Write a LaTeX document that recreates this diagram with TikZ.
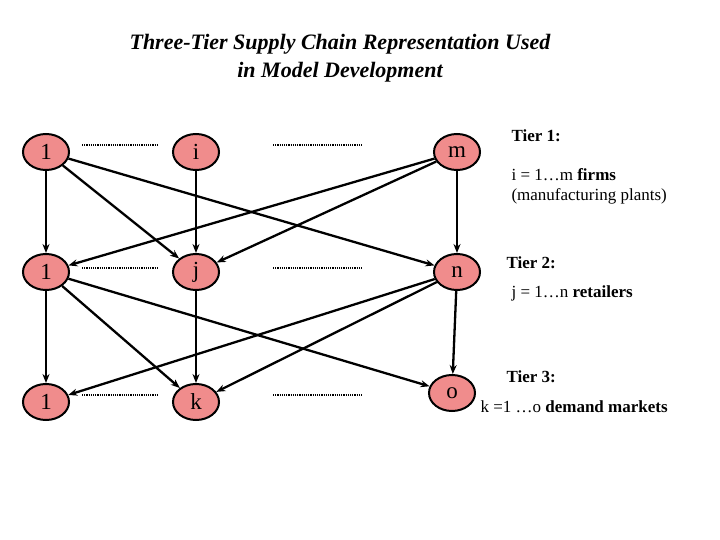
\documentclass[tikz,border=0pt]{standalone}
\usepackage{fontspec}
\setmainfont{Liberation Serif}
\usetikzlibrary{arrows.meta,shapes.geometric}
\begin{document}
\begin{tikzpicture}[x=1pt,y=-1pt,
  nd/.style={ellipse,draw,line width=2pt,fill={rgb,255:red,240;green,140;blue,140},minimum width=46pt,minimum height=36pt,inner sep=0pt,font=\fontsize{23}{24}\selectfont},
  ar/.style={line width=2.3pt,-{Stealth[length=9pt,width=7pt]}},
  dt/.style={line width=1.5pt,dash pattern=on 1.2pt off 1pt},
  lab/.style={anchor=west,font=\fontsize{17}{20}\selectfont,align=left}]
\useasboundingbox (0,0) rectangle (720,540);
\node[font=\bfseries\itshape\fontsize{22}{28}\selectfont,align=center] (t) at (340,58) {Three-Tier Supply Chain Representation Used\\in Model Development};
\node[nd] (a1) at (46,152) {1};
\node[nd] (ai) at (196,152) {i};
\node[nd] (am) at (457,152) {m};
\node[nd] (b1) at (46,272) {1};
\node[nd] (bj) at (196,272) {j};
\node[nd] (bn) at (457,272) {n};
\node[nd] (c1) at (46,402) {1};
\node[nd] (ck) at (196,402) {k};
\node[nd] (co) at (452,393) {o};
\foreach \y in {145,268,395}{
  \coordinate (p\y a) at (82,\y); \coordinate (p\y b) at (158,\y);
  \coordinate (q\y a) at (273,\y); \coordinate (q\y b) at (362,\y);
  \draw[dt] (p\y a) -- (p\y b); \draw[dt] (q\y a) -- (q\y b);}
\draw[ar] (a1) -- (b1); \draw[ar] (a1) -- (bj); \draw[ar] (a1) -- (bn);
\draw[ar] (ai) -- (bj);
\draw[ar] (am) -- (b1); \draw[ar] (am) -- (bj); \draw[ar] (am) -- (bn);
\draw[ar] (b1) -- (c1); \draw[ar] (b1) -- (ck); \draw[ar] (b1) -- (co);
\draw[ar] (bj) -- (ck);
\draw[ar] (bn) -- (c1); \draw[ar] (bn) -- (ck); \draw[ar] (bn) -- (co);
\node[lab] (l1) at (508,136) {\textbf{Tier 1:}};
\node[lab] (l1b) at (508,186) {i = 1…m \textbf{firms}\\(manufacturing plants)};
\node[lab] (l2) at (503,263) {\textbf{Tier 2:}};
\node[lab] (l2b) at (508,293) {j = 1…n \textbf{retailers}};
\node[lab] (l3) at (503,377) {\textbf{Tier 3:}};
\node[lab] (l3b) at (477,407) {k =1 …o \textbf{demand markets}};
\end{tikzpicture}
\end{document}
